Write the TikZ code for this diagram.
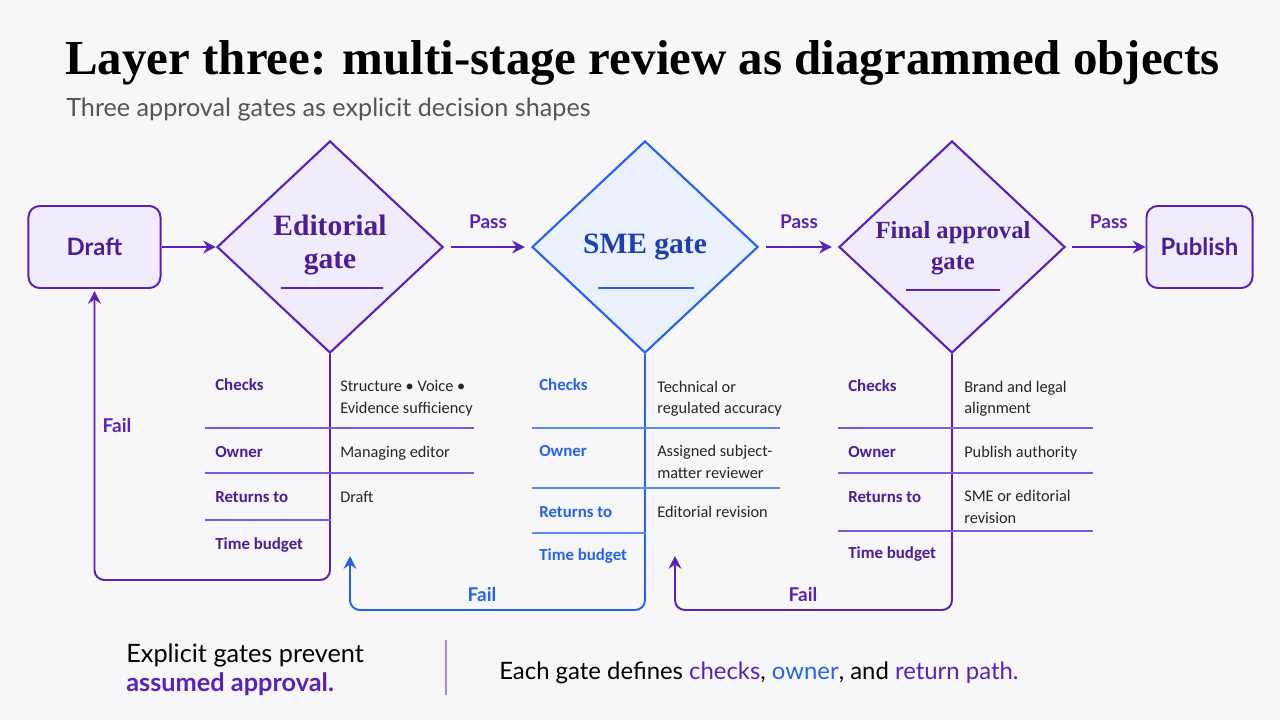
\documentclass[tikz,border=0pt]{standalone}
\usepackage{fontspec}
\setmainfont{Liberation Serif}
\setsansfont{Lato}
\newfontfamily\tabfont{Carlito}
\usetikzlibrary{shapes.geometric,arrows.meta,positioning,calc}

\definecolor{violetink}{HTML}{4C1D95}
\definecolor{violetline}{HTML}{5B21B6}
\definecolor{violetrule}{HTML}{7C5CD6}
\definecolor{violetfill}{HTML}{F1ECFB}
\definecolor{blueink}{HTML}{1E40AF}
\definecolor{blueline}{HTML}{2563EB}
\definecolor{bluerule}{HTML}{5B8DEF}
\definecolor{bluefill}{HTML}{EAF0FC}
\definecolor{paper}{HTML}{F7F7FA}
\definecolor{subgray}{HTML}{555555}

\begin{document}
\begin{tikzpicture}[
    x=0.025cm, y=-0.025cm,
    font=\sffamily,
    endbox/.style={draw=violetline, fill=violetfill, line width=1.4pt, rounded corners=8pt, minimum height=2.05cm, minimum width=3.3cm, font=\sffamily\bfseries\fontsize{17}{20}\selectfont, text=violetink},
    gate/.style={draw=violetline, fill=violetfill, line width=1.5pt, shape=diamond, minimum width=5.65cm, minimum height=5.3cm, inner sep=0pt},
    gatetext/.style={font=\rmfamily\bfseries\fontsize{21}{23}\selectfont, align=center, text=violetink},
    arrow/.style={-{Stealth[length=9pt,width=9pt]}, draw=violetline, line width=1.6pt},
    passlabel/.style={font=\sffamily\bfseries\fontsize{13.5}{15}\selectfont, text=violetline},
    failloop/.style={-{Stealth[length=9pt,width=9pt]}, draw=violetline, line width=1.4pt, rounded corners=7pt},
    rowrule/.style={draw=violetrule, line width=0.8pt},
    rowkey/.style={anchor=base west, inner sep=0pt, font=\tabfont\bfseries\fontsize{12}{15}\selectfont, text=violetink},
    rowval/.style={anchor=base west, inner sep=0pt, font=\tabfont\fontsize{11.6}{15.6}\selectfont, align=left, text=black!85},
    plain/.style={anchor=base west, inner sep=0pt}
]

% background
\useasboundingbox (0,0) rectangle (1280,720);
\fill[paper] (0,0) rectangle (1280,720);

% ====================
%       Heading
% ====================
\node[plain, font=\rmfamily\bfseries\fontsize{34.8}{40}\selectfont] (title) at (65,75) {Layer three: multi-stage review as diagrammed objects};
\node[plain, font=\sffamily\fontsize{17.9}{20}\selectfont, text=subgray] (subtitle) at (66,117) {Three approval gates as explicit decision shapes};

% ====================
%      Main flow
% ====================
\node[endbox] (draft) at (94.5,247) {Draft};
\node[gate] (ed) at (330,247) {};
\node[gate, draw=blueline, fill=bluefill] (sme) at (645,247) {};
\node[gate] (fin) at (952,247) {};
\node[endbox, minimum width=2.65cm] (pub) at (1199.5,247) {Publish};

% Gate names
\node[gatetext] (ed_txt) at (330,245) {Editorial\\gate};
\node[gatetext, text=blueink] (sme_txt) at (645,247) {SME gate};
\node[gatetext, font=\rmfamily\bfseries\fontsize{17.5}{22}\selectfont] (fin_txt) at (953,248) {Final approval\\gate};
\draw[violetline, line width=1pt] (281,288) -- (383,288);
\draw[blueline, line width=1pt] (598,288) -- (694,288);
\draw[violetline, line width=1pt] (906,290) -- (1000,290);

% Connections
\draw[arrow] (draft.east) -- (ed.west);
\draw[arrow] ($(ed.east)+(7,0)$) -- ($(sme.west)+(-6,0)$) node[midway, above=9pt, passlabel] (pass1) {Pass};
\draw[arrow] ($(sme.east)+(7,0)$) -- ($(fin.west)+(-6,0)$) node[midway, above=9pt, passlabel] (pass2) {Pass};
\draw[arrow] ($(fin.east)+(6,0)$) -- (pub.west) node[midway, above=9pt, passlabel] (pass3) {Pass};

% ====================
%    Return paths
% ====================
\coordinate (ed_low) at (200,580);
\coordinate (sme_low) at (500,610);
\coordinate (fin_low) at (800,610);
\coordinate (ed_ret) at (350,556);
\coordinate (sme_ret) at (675,556);

\draw[failloop] (ed.south) |- (ed_low) -| ($(draft.south)+(0,2)$);
\draw[failloop, draw=blueline] (sme.south) |- (sme_low) -| (ed_ret);
\draw[failloop] (fin.south) |- (fin_low) -| (sme_ret);

\node[passlabel] (fail1) at (117,426) {Fail};
\node[passlabel, text=blueline] (fail2) at (482,595) {Fail};
\node[passlabel] (fail3) at (803,595) {Fail};

% ====================
%     Gate tables
% ====================

% Editorial
\draw[rowrule] (205,428) -- (474,428);
\draw[rowrule] (205,473) -- (474,473);
\draw[rowrule] (205,520) -- (331,520);
\node[rowkey] (ed_k1) at (215,391) {Checks};
\node[rowkey] (ed_k2) at (215,457) {Owner};
\node[rowkey] (ed_k3) at (215,502) {Returns to};
\node[rowkey] (ed_k4) at (215,549) {Time budget};
\node[rowval] (ed_v1) at (340,413) {Structure \textbullet{} Voice \textbullet\\Evidence sufficiency};
\node[rowval] (ed_v2) at (340,457) {Managing editor};
\node[rowval] (ed_v3) at (340,502) {Draft};

% SME
\draw[rowrule, draw=bluerule] (532,428) -- (780,428);
\draw[rowrule, draw=bluerule] (532,488) -- (780,488);
\draw[rowrule, draw=bluerule] (532,533) -- (646,533);
\node[rowkey, text=blueline] (sme_k1) at (539,391) {Checks};
\node[rowkey, text=blueline] (sme_k2) at (539,456) {Owner};
\node[rowkey, text=blueline] (sme_k3) at (539,517) {Returns to};
\node[rowkey, text=blueline] (sme_k4) at (539,560) {Time budget};
\node[rowval] (sme_v1) at (657,414) {Technical or\\regulated accuracy};
\node[rowval] (sme_v2) at (657,478) {Assigned subject-\\matter reviewer};
\node[rowval] (sme_v3) at (657,517) {Editorial revision};

% Final approval
\draw[rowrule] (838,428) -- (1093,428);
\draw[rowrule] (838,473) -- (1093,473);
\draw[rowrule] (838,531) -- (1093,531);
\node[rowkey] (fin_k1) at (848,392) {Checks};
\node[rowkey] (fin_k2) at (848,457) {Owner};
\node[rowkey] (fin_k3) at (848,502) {Returns to};
\node[rowkey] (fin_k4) at (848,558) {Time budget};
\node[rowval] (fin_v1) at (964,414) {Brand and legal\\alignment};
\node[rowval] (fin_v2) at (964,457) {Publish authority};
\node[rowval] (fin_v3) at (964,523) {SME or editorial\\revision};

% ====================
%      Takeaways
% ====================
\node[plain, align=left, font=\sffamily\fontsize{18}{20.6}\selectfont] (note1) at (126,691) {Explicit gates prevent\\\textcolor{violetline}{\bfseries assumed approval.}};
\draw[violetrule!70, line width=1pt] (446,640) -- (446,695);
\node[plain, font=\sffamily\fontsize{17}{20}\selectfont] (note2) at (499,679) {Each gate defines \textcolor{violetline}{checks}, \textcolor{blueline}{owner}, and \textcolor{violetline}{return path.}};

\end{tikzpicture}
\end{document}
